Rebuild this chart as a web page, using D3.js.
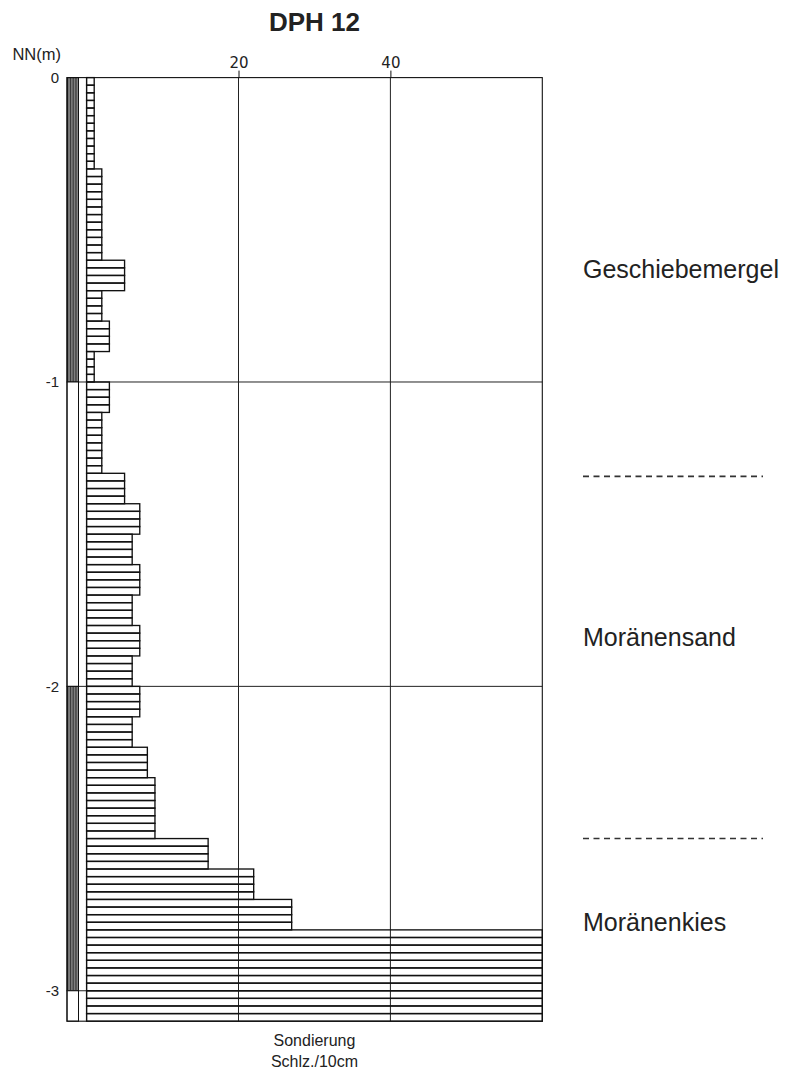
<!DOCTYPE html>
<html>
<head>
<meta charset="utf-8">
<script src="https://cdn.jsdelivr.net/npm/d3@7/dist/d3.min.js"></script>
<style>
  html, body { margin: 0; padding: 0; background: #fff; }
  svg { display: block; }
</style>
</head>
<body>
<svg id="chart" width="798" height="1073"></svg>
<script>
// Blow counts per 10 cm of penetration (DPH 12), from the surface down
const blowCounts = [1, 1, 1, 2, 2, 2, 5, 2, 3, 1,
                    3, 2, 2, 5, 7, 6, 7, 6, 7, 6,
                    7, 6, 8, 9, 9, 16, 22, 27, 60, 60, 60];
const stepDepth = 0.1;          // metres per blow-count interval
const subRows = 4;              // hatching rows drawn inside each interval

// Depth axis (metres below NN) and blow-count axis
const depthTicks = [0, 1, 2, 3];
const blowTicks = [20, 40];
const depthMax = 3.1;
const blowMax = 60;

// Stratigraphy column
const strataTop    = [0, 1, 2, 3];
const strataBottom = [1, 2, 3, 3.1];
const strataFilled = [true, false, true, false];

// Layer descriptions on the right
const layerNames = ["Geschiebemergel", "Moränensand", "Moränenkies"];
const layerLabelDepths = [0.659, 1.867, 2.804];
const layerBoundaries = [1.31, 2.5];

const svg = d3.select("#chart");
const ink = "#111";

const x = d3.scaleLinear().domain([0, blowMax]).range([86.6, 542.3]);
const y = d3.scaleLinear().domain([0, depthMax]).range([77.6, 1021.2]);

const colLeft = 67, colRight = 78.5;

// hatch pattern for the strata column
const defs = svg.append("defs");
const pat = defs.append("pattern")
  .attr("id", "vhatch").attr("patternUnits", "userSpaceOnUse")
  .attr("x", colLeft).attr("width", 2.8).attr("height", 10);
pat.append("rect").attr("width", 2.8).attr("height", 10).attr("fill", "#8c8c8c");
pat.append("line").attr("x1", 0.6).attr("x2", 0.6).attr("y1", 0).attr("y2", 10)
  .attr("stroke", "#2a2a2a").attr("stroke-width", 1.2);

// Title
svg.append("text")
  .attr("x", (x(0) + x(blowMax)) / 2).attr("y", 31)
  .attr("text-anchor", "middle")
  .attr("font-family", "Liberation Sans, Arial, sans-serif")
  .attr("font-weight", "bold").attr("font-size", 26).attr("fill", "#222")
  .text("DPH 12");

// Vertical grid
svg.append("g").selectAll("line").data(blowTicks).join("line")
  .attr("x1", d => x(d)).attr("x2", d => x(d))
  .attr("y1", y(0)).attr("y2", y(depthMax))
  .attr("stroke", "#222").attr("stroke-width", 1);

// Horizontal grid at whole metres
svg.append("g").selectAll("line").data(depthTicks.filter(d => d > 0)).join("line")
  .attr("x1", colLeft).attr("x2", x(blowMax))
  .attr("y1", d => y(d)).attr("y2", d => y(d))
  .attr("stroke", "#222").attr("stroke-width", 1);

// Strata column
const strata = strataTop.map((t, i) => ({ top: t, bottom: strataBottom[i], filled: strataFilled[i] }));
svg.append("g").selectAll("rect").data(strata).join("rect")
  .attr("x", colLeft).attr("width", colRight - colLeft)
  .attr("y", d => y(d.top)).attr("height", d => y(d.bottom) - y(d.top))
  .attr("fill", d => d.filled ? "url(#vhatch)" : "#fff")
  .attr("stroke", ink).attr("stroke-width", 1);

// Blow-count bars, each 10 cm interval hatched in 2.5 cm rows
const rows = [];
blowCounts.forEach((v, i) => {
  for (let k = 0; k < subRows; k++) {
    const top = i * stepDepth + k * stepDepth / subRows;
    rows.push({ v, top, bottom: top + stepDepth / subRows });
  }
});
svg.append("g").selectAll("rect").data(rows).join("rect")
  .attr("x", x(0)).attr("width", d => x(d.v) - x(0))
  .attr("y", d => y(d.top)).attr("height", d => y(d.bottom) - y(d.top))
  .attr("fill", "none").attr("stroke", ink).attr("stroke-width", 1.35);

// Frame
svg.append("rect")
  .attr("x", colLeft).attr("y", y(0))
  .attr("width", x(blowMax) - colLeft).attr("height", y(depthMax) - y(0))
  .attr("fill", "none").attr("stroke", ink).attr("stroke-width", 1.1);
[colRight, x(0)].forEach(px => {
  svg.append("line").attr("x1", px).attr("x2", px)
    .attr("y1", y(0)).attr("y2", y(depthMax))
    .attr("stroke", ink).attr("stroke-width", 1);
});

// Top axis: blow counts
const topAxis = svg.append("g")
  .attr("transform", `translate(0,${y(0)})`)
  .call(d3.axisTop(x).tickValues(blowTicks).tickSize(7).tickSizeOuter(0).tickPadding(3));
topAxis.select(".domain").remove();
topAxis.selectAll("line").attr("stroke", ink);
topAxis.selectAll("text")
  .attr("font-family", "DejaVu Sans, Verdana, sans-serif")
  .attr("font-size", 15).attr("fill", "#222");

// Left axis: depth
const leftAxis = svg.append("g")
  .attr("transform", `translate(${colLeft - 8},0)`)
  .call(d3.axisLeft(y).tickValues(depthTicks).tickSize(0).tickPadding(0)
    .tickFormat(d => d === 0 ? "0" : "-" + d));
leftAxis.select(".domain").remove();
leftAxis.selectAll("text")
  .attr("font-family", "Liberation Sans, Arial, sans-serif")
  .attr("font-size", 15).attr("fill", "#222");

svg.append("text")
  .attr("x", 61).attr("y", 60).attr("text-anchor", "end")
  .attr("font-family", "Liberation Sans, Arial, sans-serif")
  .attr("font-size", 16.5).attr("fill", "#222")
  .text("NN(m)");

// Bottom axis title
const midX = (x(0) + x(blowMax)) / 2;
svg.append("text").attr("x", midX).attr("y", 1046).attr("text-anchor", "middle")
  .attr("font-family", "Liberation Sans, Arial, sans-serif")
  .attr("font-size", 16).attr("fill", "#222").text("Sondierung");
svg.append("text").attr("x", midX).attr("y", 1067).attr("text-anchor", "middle")
  .attr("font-family", "Liberation Sans, Arial, sans-serif")
  .attr("font-size", 16).attr("fill", "#222").text("Schlz./10cm");

// Layer descriptions and boundaries
const labelX = 583;
svg.append("g").selectAll("text").data(layerNames).join("text")
  .attr("x", labelX).attr("y", (d, i) => y(layerLabelDepths[i]))
  .attr("font-family", "Liberation Sans, Arial, sans-serif")
  .attr("font-size", 25).attr("fill", "#222")
  .text(d => d);
svg.append("g").selectAll("line").data(layerBoundaries).join("line")
  .attr("x1", labelX).attr("x2", 763)
  .attr("y1", d => y(d)).attr("y2", d => y(d))
  .attr("stroke", "#333").attr("stroke-width", 1.6)
  .attr("stroke-dasharray", "6,4.5");
</script>
</body>
</html>
